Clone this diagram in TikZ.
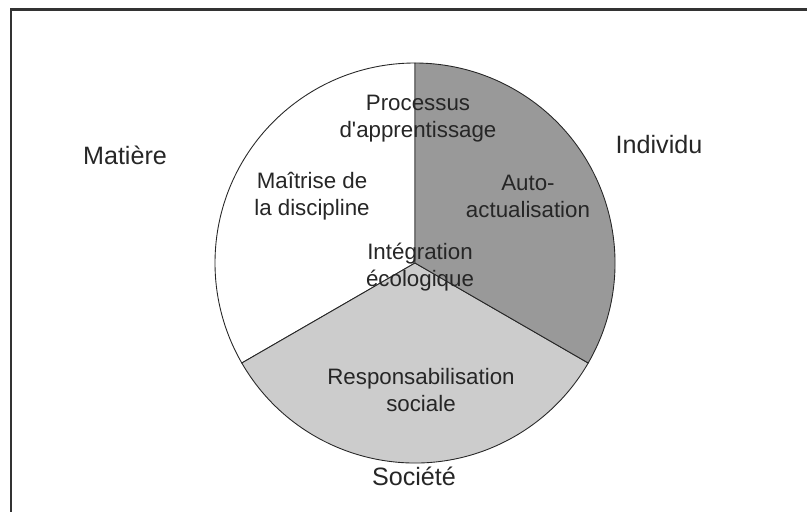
\documentclass[tikz,border=0pt]{standalone}
\usepackage{fontspec}
\setmainfont{Liberation Sans}
\begin{document}
\begin{tikzpicture}[x=0.02cm,y=0.02cm,
  txt/.style={font=\fontsize{12.7}{15.4}\selectfont, align=center, text=black!85, inner sep=0pt},
  outer/.style={txt, font=\fontsize{14.3}{17}\selectfont},
  sector/.style={draw=black!85, line width=0.5pt}]
  \useasboundingbox (0,0) rectangle (807,512);
  \draw[line width=1.3pt, black!80] (807,502.5) -- (11,502.5) -- (11,0);

  \coordinate (O) at (415,249);
  \filldraw[sector, fill=white] (O) -- ++(90:200) arc[start angle=90, end angle=210, radius=200] -- cycle;
  \filldraw[sector, fill=black!20] (O) -- ++(210:200) arc[start angle=210, end angle=330, radius=200] -- cycle;
  \filldraw[sector, fill=black!40] (O) -- ++(330:200) arc[start angle=330, end angle=450, radius=200] -- cycle;

  \node[txt] (proc) at (418,393) {Processus\\d\textquotesingle apprentissage};
  \node[txt] (mait) at (312,316) {Maîtrise de\\la discipline};
  \node[txt] (auto) at (528,316) {Auto-\\actualisation};
  \node[txt] (integ) at (420,245) {Intégration\\écologique};
  \node[txt] (resp) at (421,122) {Responsabilisation\\sociale};
  \node[outer] (mat) at (125,357) {Matière};
  \node[outer] (ind) at (659,367) {Individu};
  \node[outer] (soc) at (414,36) {Société};
\end{tikzpicture}
\end{document}
